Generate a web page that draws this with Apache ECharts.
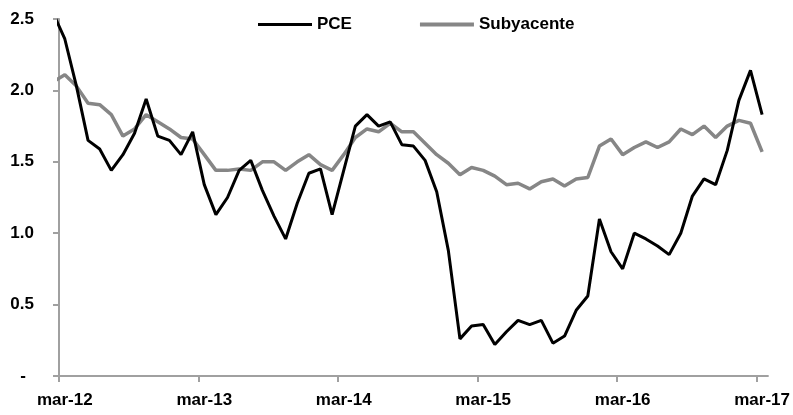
<!DOCTYPE html>
<html>
<head>
<meta charset="utf-8">
<script src="https://cdn.jsdelivr.net/npm/echarts@6/dist/echarts.min.js"></script>
<style>html,body{margin:0;padding:0;background:#fff}#c{width:793px;height:415px}</style>
</head>
<body>
<div id="c"></div>
<script>
// Monthly values, Feb-12 (clipped at the axis) through Mar-17
const pce = [2.54,
  2.36, 2.03, 1.65, 1.59, 1.44, 1.55, 1.70, 1.94, 1.68, 1.65, 1.55, 1.71,
  1.34, 1.13, 1.25, 1.44, 1.51, 1.30, 1.12, 0.96, 1.21, 1.42, 1.45, 1.13,
  1.44, 1.75, 1.83, 1.75, 1.78, 1.62, 1.61, 1.51, 1.29, 0.88, 0.26, 0.35,
  0.36, 0.22, 0.31, 0.39, 0.36, 0.39, 0.23, 0.28, 0.46, 0.56, 1.10, 0.87,
  0.75, 1.00, 0.96, 0.91, 0.85, 1.00, 1.26, 1.38, 1.34, 1.58, 1.93, 2.14,
  1.83];
const core = [2.06,
  2.11, 2.03, 1.91, 1.90, 1.83, 1.68, 1.73, 1.83, 1.78, 1.73, 1.67, 1.66,
  1.55, 1.44, 1.44, 1.45, 1.44, 1.50, 1.50, 1.44, 1.50, 1.55, 1.48, 1.44,
  1.55, 1.67, 1.73, 1.71, 1.77, 1.71, 1.71, 1.63, 1.55, 1.49, 1.41, 1.46,
  1.44, 1.40, 1.34, 1.35, 1.31, 1.36, 1.38, 1.33, 1.38, 1.39, 1.61, 1.66,
  1.55, 1.60, 1.64, 1.60, 1.64, 1.73, 1.69, 1.75, 1.67, 1.75, 1.79, 1.77,
  1.57];
const tickLabels = ['mar-12', 'mar-13', 'mar-14', 'mar-15', 'mar-16', 'mar-17'];

// x position: month index offset by half a month (points sit mid-month), first value is Feb-12
const toPts = arr => arr.map((v, i) => [i - 0.5, v]);
const tickVals = tickLabels.map((_, i) => i * 12);
const labelVals = tickLabels.map((_, i) => i * 12 + 0.5);

const font = 'Liberation Sans, Arial, sans-serif';
const chart = echarts.init(document.getElementById('c'), null, {renderer: 'canvas'});
chart.setOption({
  animation: false,
  backgroundColor: '#fff',
  grid: {left: 59, top: 19, width: 709, height: 357, containLabel: false},
  legend: {
    data: [
      {name: 'PCE', icon: 'path://M0,0H54V3H0Z'},
      {name: 'Subyacente', icon: 'path://M0,0H54V4H0Z'}
    ],
    left: 253, top: 11,
    itemWidth: 54, itemHeight: 4, itemGap: 68,
    textStyle: {fontFamily: font, fontWeight: 'bold', fontSize: 17, color: '#000'}
  },
  xAxis: {
    type: 'value', min: 0, max: 61,
    splitLine: {show: false},
    axisLine: {lineStyle: {color: '#a0a0a0', width: 2}},
    axisTick: {show: true, inside: false, length: 6, customValues: tickVals, lineStyle: {color: '#a0a0a0', width: 2}},
    axisLabel: {
      customValues: labelVals, margin: 16,
      fontFamily: font, fontWeight: 'bold', fontSize: 17, color: '#000',
      formatter: v => tickLabels[Math.round((v - 0.5) / 12)]
    }
  },
  yAxis: {
    type: 'value', min: 0, max: 2.5, interval: 0.5,
    splitLine: {show: false},
    axisLine: {show: true, lineStyle: {color: '#a0a0a0', width: 2}},
    axisTick: {show: true, inside: false, length: 6, lineStyle: {color: '#a0a0a0', width: 2}},
    axisLabel: {
      margin: 25, fontFamily: font, fontWeight: 'bold', fontSize: 17, color: '#000',
      formatter: v => v === 0 ? '{d|-}' : v.toFixed(1),
      rich: {d: {fontFamily: font, fontWeight: 'bold', fontSize: 17, color: '#000', padding: [0, 8, 0, 0]}}
    }
  },
  series: [
    {name: 'PCE', type: 'line', data: toPts(pce), symbol: 'none', clip: true,
     lineStyle: {color: '#000', width: 3}, itemStyle: {color: '#000'}, z: 3},
    {name: 'Subyacente', type: 'line', data: toPts(core), symbol: 'none', clip: true,
     lineStyle: {color: '#868686', width: 3.5}, itemStyle: {color: '#868686'}, z: 2}
  ]
});
</script>
</body>
</html>
